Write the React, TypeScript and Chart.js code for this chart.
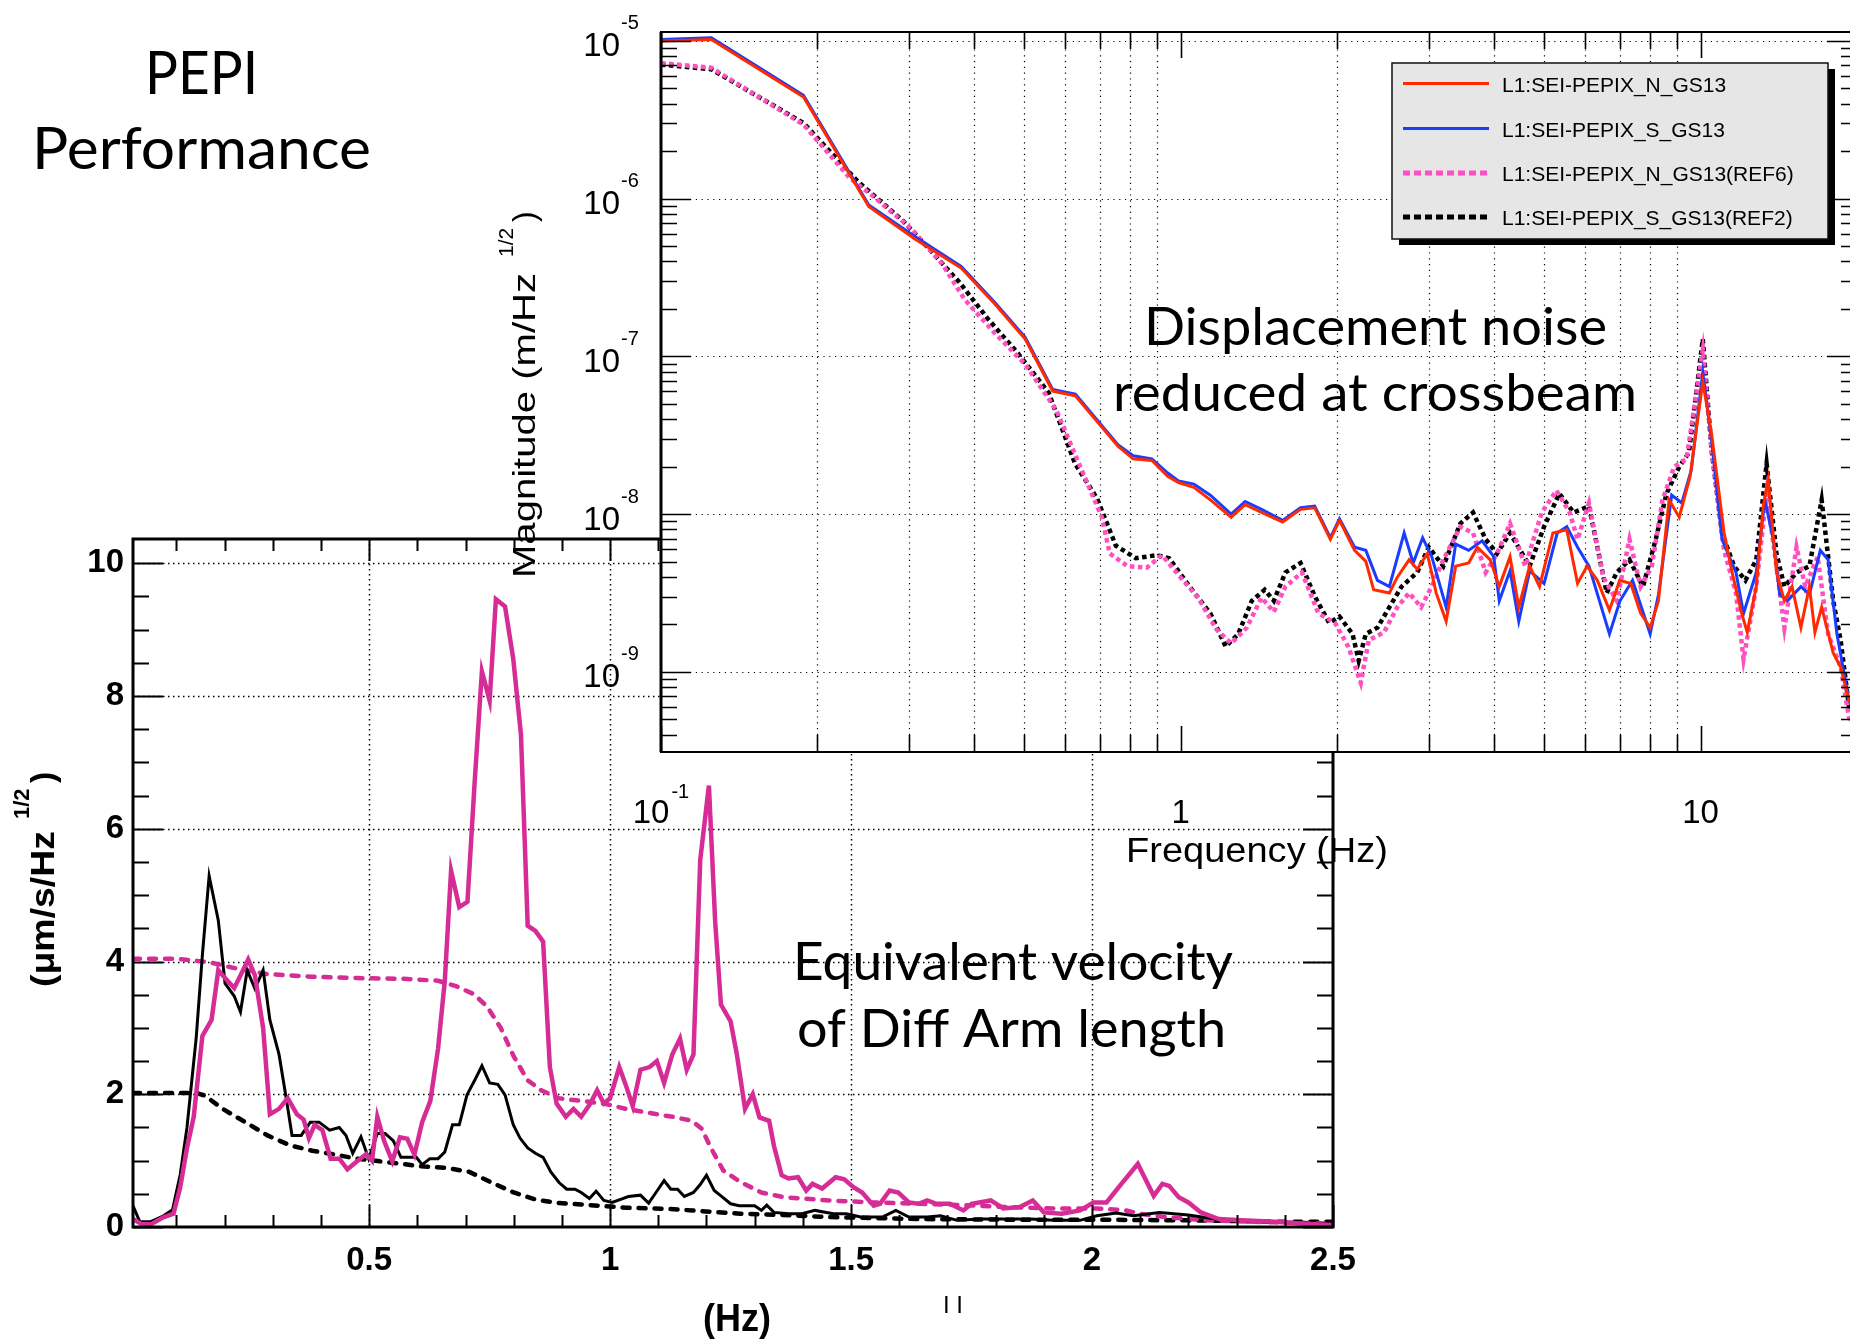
import React, { useEffect, useRef } from "react";
import { Chart, registerables } from "chart.js";

Chart.register(...registerables);

const PAGE_W = 1850;
const PAGE_H = 1342;
const TOP_W = 1860;

const SANS = '"Liberation Sans", Arial, Helvetica, sans-serif';
const HUMANIST = 'Lato, "Open Sans", "DejaVu Sans", sans-serif';

// ================= Lower chart: equivalent velocity of Diff Arm length =================
const velTickHz = [0.5, 1, 1.5, 2, 2.5];
const velTickVal = [0, 2, 4, 6, 8, 10];

// magenta solid
const velNFreq = [0.01,0.029,0.047,0.071,0.094,0.108,0.122,0.136,0.154,0.173,0.187,0.201,0.22,0.233,0.249,0.263,0.28,0.294,0.313,0.331,0.35,0.364,0.375,0.387,0.403,0.42,0.438,0.455,0.475,0.494,0.506,0.517,0.531,0.548,0.564,0.579,0.594,0.61,0.627,0.643,0.657,0.67,0.687,0.704,0.719,0.734,0.75,0.763,0.782,0.799,0.815,0.829,0.845,0.861,0.875,0.889,0.908,0.924,0.94,0.959,0.973,0.987,1.0,1.019,1.033,1.047,1.063,1.082,1.097,1.112,1.129,1.145,1.159,1.173,1.187,1.205,1.218,1.23,1.25,1.263,1.28,1.296,1.31,1.33,1.34,1.356,1.37,1.39,1.407,1.42,1.44,1.468,1.486,1.505,1.523,1.547,1.56,1.58,1.598,1.62,1.64,1.658,1.677,1.705,1.733,1.75,1.79,1.816,1.85,1.877,1.9,1.937,1.975,2.003,2.03,2.063,2.095,2.128,2.146,2.16,2.18,2.2,2.226,2.263,2.31,2.38,2.44,2.5];
const velNVal = [0.12,0.04,0.04,0.14,0.2,0.6,1.19,1.66,2.88,3.12,3.87,3.75,3.6,3.79,4.03,3.79,3.0,1.7,1.78,1.94,1.7,1.62,1.34,1.54,1.46,1.03,1.03,0.87,0.99,1.1,1.0,1.66,1.3,0.99,1.35,1.33,1.09,1.58,1.9,2.69,3.71,5.37,4.82,4.9,6.71,8.37,7.93,9.46,9.35,8.56,7.42,4.54,4.46,4.3,2.41,1.86,1.66,1.78,1.66,1.86,2.06,1.86,1.94,2.41,2.13,1.82,2.37,2.41,2.5,2.17,2.6,2.84,2.37,2.6,5.53,6.65,4.6,3.35,3.1,2.6,1.78,2.0,1.65,1.6,1.22,0.78,0.73,0.75,0.55,0.65,0.58,0.75,0.72,0.6,0.52,0.32,0.35,0.55,0.52,0.37,0.35,0.4,0.35,0.35,0.25,0.35,0.4,0.28,0.3,0.4,0.22,0.2,0.25,0.37,0.37,0.67,0.95,0.47,0.65,0.62,0.45,0.37,0.22,0.12,0.1,0.08,0.05,0.03];

// black solid
const velSFreq = [0.01,0.024,0.047,0.071,0.092,0.108,0.122,0.141,0.154,0.168,0.187,0.201,0.22,0.233,0.247,0.263,0.28,0.294,0.313,0.327,0.34,0.359,0.378,0.396,0.418,0.438,0.452,0.466,0.483,0.499,0.517,0.533,0.55,0.566,0.585,0.598,0.61,0.626,0.643,0.657,0.673,0.687,0.703,0.719,0.734,0.75,0.767,0.782,0.799,0.813,0.829,0.845,0.861,0.877,0.894,0.91,0.927,0.94,0.957,0.971,0.987,1.004,1.019,1.038,1.063,1.08,1.098,1.112,1.126,1.14,1.154,1.173,1.187,1.2,1.216,1.23,1.25,1.268,1.3,1.314,1.325,1.34,1.37,1.398,1.425,1.463,1.49,1.52,1.565,1.593,1.62,1.658,1.686,1.72,1.77,1.826,1.872,1.92,1.975,2.01,2.05,2.086,2.14,2.2,2.256,2.31,2.38,2.5];
const velSVal = [0.32,0.08,0.08,0.16,0.26,0.79,1.5,2.84,4.1,5.29,4.62,3.67,3.48,3.24,3.87,3.59,3.87,3.12,2.6,1.98,1.38,1.38,1.58,1.58,1.46,1.5,1.38,1.11,1.36,1.03,1.41,1.41,1.3,1.05,1.05,1.05,0.94,1.03,1.03,1.13,1.54,1.54,1.99,2.21,2.43,2.17,2.15,1.99,1.54,1.34,1.19,1.11,1.05,0.83,0.67,0.57,0.57,0.52,0.43,0.54,0.4,0.37,0.41,0.46,0.48,0.36,0.55,0.7,0.57,0.57,0.46,0.52,0.64,0.78,0.55,0.47,0.35,0.32,0.32,0.25,0.33,0.22,0.2,0.2,0.25,0.2,0.2,0.15,0.15,0.25,0.15,0.15,0.17,0.1,0.12,0.12,0.12,0.1,0.1,0.17,0.21,0.17,0.22,0.18,0.12,0.1,0.07,0.05];

// magenta dashed
const velNRefFreq = [0.01,0.103,0.168,0.215,0.289,0.382,0.475,0.568,0.643,0.68,0.717,0.745,0.773,0.8,0.829,0.857,0.894,0.94,0.987,1.033,1.08,1.13,1.17,1.19,1.21,1.235,1.27,1.314,1.36,1.453,1.547,1.64,1.733,1.826,1.92,2.01,2.07,2.1,2.15,2.24,2.38,2.5];
const velNRefVal = [4.04,4.04,3.99,3.91,3.81,3.77,3.75,3.74,3.71,3.63,3.51,3.32,3.0,2.57,2.21,2.06,1.94,1.9,1.86,1.78,1.72,1.66,1.6,1.48,1.18,0.85,0.68,0.52,0.45,0.4,0.37,0.35,0.33,0.3,0.28,0.28,0.25,0.2,0.15,0.1,0.07,0.05];

// black dashed
const velSRefFreq = [0.01,0.141,0.159,0.196,0.243,0.289,0.336,0.382,0.429,0.475,0.522,0.568,0.615,0.661,0.708,0.754,0.8,0.847,0.894,0.94,1.033,1.126,1.27,1.36,1.453,1.64,1.83,2.01,2.2,2.38,2.5];
const velSRefVal = [2.02,2.02,1.98,1.78,1.58,1.38,1.23,1.15,1.09,1.03,0.99,0.95,0.91,0.89,0.83,0.67,0.52,0.41,0.36,0.34,0.29,0.27,0.2,0.18,0.15,0.12,0.11,0.11,0.1,0.08,0.08];

// ================= Upper chart: displacement noise magnitude (log-log) =================
const magDecades = [-5, -6, -7, -8, -9];
const freqTickLabels = [
  { value: 0.1, base: "10", exp: "-1" },
  { value: 1, base: "1", exp: "" },
  { value: 10, base: "10", exp: "" },
];

const seriesLabels = [
  "L1:SEI-PEPIX_N_GS13",
  "L1:SEI-PEPIX_S_GS13",
  "L1:SEI-PEPIX_N_GS13(REF6)",
  "L1:SEI-PEPIX_S_GS13(REF2)",
];

// log10 of magnitude (m/Hz^1/2)
const redFreq = [0.1,0.125,0.188,0.251,0.308,0.378,0.438,0.502,0.567,0.627,0.757,0.81,0.88,0.944,0.99,1.06,1.14,1.25,1.33,1.43,1.57,1.7,1.81,1.94,2.02,2.16,2.27,2.35,2.52,2.61,2.75,2.85,2.98,3.1,3.24,3.38,3.58,3.72,3.94,4.1,4.3,4.47,4.69,4.9,5.2,5.53,5.8,6.05,6.33,6.68,6.99,7.34,7.67,8.0,8.3,8.7,9.1,9.55,10.1,10.5,11.1,11.5,12.0,12.3,12.8,13.2,13.5,14.0,14.5,15.0,15.6,16.2,16.6,17.1,18.0,18.6,19.3,20];
const redLogMag = [-5.0,-4.99,-5.355,-6.05,-6.256,-6.44,-6.665,-6.89,-7.22,-7.25,-7.57,-7.65,-7.66,-7.76,-7.80,-7.83,-7.91,-8.02,-7.94,-7.99,-8.05,-7.97,-7.96,-8.16,-8.04,-8.23,-8.30,-8.48,-8.50,-8.40,-8.29,-8.35,-8.25,-8.50,-8.68,-8.33,-8.31,-8.21,-8.29,-8.46,-8.27,-8.59,-8.33,-8.46,-8.12,-8.10,-8.44,-8.33,-8.42,-8.61,-8.42,-8.44,-8.63,-8.72,-8.55,-7.91,-8.02,-7.76,-7.16,-7.49,-8.12,-8.37,-8.63,-8.75,-8.46,-7.95,-7.78,-8.37,-8.55,-8.46,-8.72,-8.46,-8.75,-8.59,-8.88,-8.97,-9.18,-9.25];

const blueFreq = [0.1,0.125,0.188,0.251,0.308,0.378,0.438,0.502,0.567,0.627,0.757,0.81,0.88,0.944,0.99,1.06,1.14,1.25,1.33,1.43,1.57,1.7,1.81,1.94,2.02,2.16,2.27,2.39,2.52,2.69,2.8,2.92,3.04,3.24,3.38,3.58,3.8,4.0,4.1,4.3,4.47,4.69,5.0,5.3,5.53,5.8,6.1,6.68,7.0,7.4,8.0,8.3,8.8,9.2,9.6,10.1,10.5,11.0,11.7,12.1,12.8,13.3,13.8,14.2,14.7,15.6,16.2,17.0,17.6,18.3,19.3,20];
const blueLogMag = [-4.99,-4.98,-5.345,-6.04,-6.24,-6.43,-6.655,-6.88,-7.21,-7.24,-7.56,-7.63,-7.65,-7.74,-7.79,-7.81,-7.88,-8.0,-7.92,-7.97,-8.04,-7.96,-7.95,-8.15,-8.03,-8.21,-8.23,-8.42,-8.46,-8.12,-8.31,-8.15,-8.27,-8.59,-8.19,-8.23,-8.17,-8.27,-8.55,-8.36,-8.68,-8.36,-8.44,-8.12,-8.08,-8.21,-8.33,-8.76,-8.55,-8.42,-8.76,-8.51,-7.88,-7.93,-7.72,-7.10,-7.53,-8.16,-8.37,-8.63,-8.37,-7.91,-8.16,-8.51,-8.55,-8.46,-8.51,-8.23,-8.29,-8.76,-9.18,-9.3];

const ref6Freq = [0.1,0.125,0.188,0.231,0.255,0.303,0.347,0.384,0.438,0.502,0.576,0.637,0.705,0.73,0.79,0.86,0.92,1.01,1.08,1.17,1.25,1.34,1.43,1.51,1.59,1.71,1.84,1.98,2.1,2.22,2.3,2.46,2.61,2.75,2.9,3.04,3.2,3.45,3.65,3.86,4.06,4.3,4.6,4.95,5.28,5.6,5.8,6.1,6.5,6.9,7.3,7.67,8.06,8.45,8.9,9.4,10.1,10.5,11.1,11.7,12.1,12.8,13.4,14.0,14.5,15.3,15.9,16.8,17.6,18.6,19.3,20];
const ref6LogMag = [-5.14,-5.17,-5.53,-5.87,-5.98,-6.19,-6.41,-6.64,-6.85,-7.05,-7.34,-7.68,-8.02,-8.25,-8.33,-8.34,-8.26,-8.42,-8.53,-8.73,-8.82,-8.72,-8.53,-8.62,-8.46,-8.37,-8.63,-8.69,-8.84,-9.07,-8.80,-8.75,-8.59,-8.50,-8.59,-8.46,-8.29,-8.08,-8.12,-8.37,-8.25,-8.06,-8.33,-7.99,-7.85,-7.99,-8.16,-7.93,-8.40,-8.55,-8.16,-8.46,-8.33,-7.91,-7.70,-7.65,-6.96,-7.59,-8.23,-8.50,-8.92,-8.46,-7.87,-8.33,-8.72,-8.21,-8.46,-8.27,-8.76,-8.97,-9.29,-9.35];

const ref2Freq = [0.1,0.125,0.188,0.239,0.292,0.324,0.375,0.425,0.486,0.557,0.626,0.69,0.75,0.82,0.9,0.95,1.04,1.14,1.22,1.29,1.37,1.45,1.51,1.59,1.7,1.81,1.93,2.02,2.14,2.2,2.27,2.39,2.52,2.66,2.85,3.0,3.2,3.45,3.65,3.86,4.06,4.3,4.69,5.0,5.35,5.7,6.1,6.6,6.9,7.3,7.75,8.2,8.6,9.1,9.5,10.1,10.5,11.0,11.6,12.2,12.8,13.4,14.0,14.5,15.3,16.2,17.1,18.0,18.6,19.3,20];
const ref2LogMag = [-5.15,-5.18,-5.52,-5.89,-6.14,-6.30,-6.53,-6.76,-6.98,-7.23,-7.68,-7.9,-8.2,-8.28,-8.26,-8.28,-8.46,-8.63,-8.84,-8.76,-8.55,-8.48,-8.55,-8.37,-8.31,-8.52,-8.69,-8.65,-8.76,-8.93,-8.76,-8.72,-8.59,-8.46,-8.37,-8.21,-8.33,-8.06,-7.99,-8.16,-8.25,-8.12,-8.33,-8.08,-7.87,-7.99,-7.95,-8.5,-8.37,-8.29,-8.46,-8.16,-7.87,-7.70,-7.61,-6.89,-7.59,-8.12,-8.33,-8.42,-8.29,-7.68,-8.25,-8.46,-8.37,-8.33,-7.91,-8.55,-8.80,-9.22,-9.3];

// ---------------- helpers ----------------
function pts(xs: number[], ys: number[]) {
  const n = Math.min(xs.length, ys.length);
  const out: { x: number; y: number }[] = [];
  for (let i = 0; i < n; i++) out.push({ x: xs[i], y: ys[i] });
  return out;
}
function logPts(xs: number[], logs: number[]) {
  const n = Math.min(xs.length, logs.length);
  const out: { x: number; y: number }[] = [];
  for (let i = 0; i < n; i++) out.push({ x: xs[i], y: Math.pow(10, logs[i]) });
  return out;
}

function fitText(
  ctx: CanvasRenderingContext2D,
  text: string,
  font: string,
  x: number,
  baseline: number,
  width: number,
  align: "left" | "center" = "left"
) {
  ctx.save();
  ctx.font = font;
  ctx.textAlign = "left";
  ctx.textBaseline = "alphabetic";
  const w = ctx.measureText(text).width || 1;
  ctx.translate(x, baseline);
  ctx.scale(width / w, 1);
  ctx.fillText(text, align === "center" ? -w / 2 : 0, 0);
  ctx.restore();
}

// ---------------- lower chart decorations ----------------
const lowerDecor = {
  id: "lowerDecor",
  beforeDatasetsDraw(chart: any) {
    const { ctx, chartArea: a } = chart;
    const xs = chart.scales.x;
    const ys = chart.scales.y;
    ctx.save();
    ctx.strokeStyle = "#000";
    ctx.lineWidth = 1.5;
    ctx.setLineDash([1.5, 3.5]);
    ctx.beginPath();
    velTickHz.forEach((v) => {
      const px = Math.round(xs.getPixelForValue(v)) + 0.5;
      if (px > a.left + 3 && px < a.right - 3) {
        ctx.moveTo(px, a.top);
        ctx.lineTo(px, a.bottom);
      }
    });
    velTickVal.forEach((v) => {
      const py = Math.round(ys.getPixelForValue(v)) + 0.5;
      if (py > a.top + 3 && py < a.bottom - 3) {
        ctx.moveTo(a.left, py);
        ctx.lineTo(a.right, py);
      }
    });
    ctx.stroke();
    ctx.restore();
  },
  afterDatasetsDraw(chart: any) {
    const { ctx, chartArea: a } = chart;
    const xs = chart.scales.x;
    const ys = chart.scales.y;
    ctx.save();
    ctx.strokeStyle = "#000";
    ctx.setLineDash([]);
    ctx.lineWidth = 2;
    ctx.beginPath();
    for (let i = 1; i <= 25; i++) {
      const px = Math.round(xs.getPixelForValue(i / 10)) + 0.5;
      const len = i % 5 === 0 ? 22 : 12;
      ctx.moveTo(px, a.bottom);
      ctx.lineTo(px, a.bottom - len);
      ctx.moveTo(px, a.top);
      ctx.lineTo(px, a.top + len);
    }
    for (let i = 0; i <= 20; i++) {
      const py = Math.round(ys.getPixelForValue(i / 2)) + 0.5;
      const len = i % 4 === 0 ? 30 : 16;
      ctx.moveTo(a.left, py);
      ctx.lineTo(a.left + len, py);
      ctx.moveTo(a.right, py);
      ctx.lineTo(a.right - len, py);
    }
    ctx.stroke();
    ctx.lineWidth = 3;
    ctx.strokeRect(a.left, a.top, a.right - a.left, a.bottom - a.top);

    ctx.fillStyle = "#000";
    // x title
    fitText(ctx, "(Hz)", `bold 38px ${SANS}`, 737, 1331, 68, "center");
    // stray mark under the axis
    ctx.font = `24px ${SANS}`;
    ctx.textAlign = "center";
    ctx.textBaseline = "alphabetic";
    ctx.fillText("I I", 953, 1313);

    // y title (rotated)
    ctx.save();
    ctx.translate(54, 987);
    ctx.rotate(-Math.PI / 2);
    ctx.textAlign = "left";
    ctx.textBaseline = "alphabetic";
    ctx.font = `bold 34px ${SANS}`;
    const w1 = ctx.measureText("(\u03bcm/s/Hz").width;
    ctx.save();
    ctx.scale(156 / w1, 1);
    ctx.fillText("(\u03bcm/s/Hz", 0, 0);
    ctx.restore();
    ctx.font = `bold 22px ${SANS}`;
    ctx.fillText("1/2", 168, -25);
    ctx.font = `bold 34px ${SANS}`;
    ctx.fillText(")", 204, 0);
    ctx.restore();
    ctx.restore();
  },
};

// ---------------- upper chart decorations ----------------
const upperDecor = {
  id: "upperDecor",
  beforeDraw(chart: any) {
    const { ctx, chartArea: a } = chart;
    ctx.save();
    ctx.fillStyle = "#fff";
    ctx.fillRect(a.left, a.top, a.right - a.left, a.bottom - a.top);
    ctx.restore();
  },
  beforeDatasetsDraw(chart: any) {
    const { ctx, chartArea: a } = chart;
    const xs = chart.scales.x;
    const ys = chart.scales.y;
    ctx.save();
    ctx.strokeStyle = "#000";
    ctx.lineWidth = 1.2;
    ctx.setLineDash([1.2, 4.6]);
    ctx.beginPath();
    for (const d of [0.1, 1, 10]) {
      for (let k = 2; k <= 9; k++) {
        const v = k * d;
        if (v >= xs.max) continue;
        const px = Math.round(xs.getPixelForValue(v)) + 0.5;
        ctx.moveTo(px, a.top);
        ctx.lineTo(px, a.bottom);
      }
    }
    magDecades.forEach((e) => {
      const py = Math.round(ys.getPixelForValue(Math.pow(10, e))) + 0.5;
      ctx.moveTo(a.left, py);
      ctx.lineTo(a.right, py);
    });
    ctx.stroke();
    ctx.restore();
  },
  afterDatasetsDraw(chart: any) {
    const { ctx, chartArea: a } = chart;
    const xs = chart.scales.x;
    const ys = chart.scales.y;
    ctx.save();
    ctx.strokeStyle = "#000";
    ctx.setLineDash([]);
    ctx.lineWidth = 1.6;
    ctx.beginPath();
    // x ticks
    for (const d of [0.1, 1, 10]) {
      for (let k = 1; k <= 9; k++) {
        const v = k * d;
        if (v > xs.max) continue;
        const px = Math.round(xs.getPixelForValue(v)) + 0.5;
        const len = k === 1 ? 26 : 17;
        ctx.moveTo(px, a.bottom);
        ctx.lineTo(px, a.bottom - len);
        ctx.moveTo(px, a.top);
        ctx.lineTo(px, a.top + len);
      }
    }
    // y ticks
    for (let e = -10; e <= -5; e++) {
      for (let k = 1; k <= 9; k++) {
        const v = k * Math.pow(10, e);
        if (v < ys.min || v > ys.max) continue;
        const py = Math.round(ys.getPixelForValue(v)) + 0.5;
        const len = k === 1 ? 30 : 16;
        ctx.moveTo(a.left, py);
        ctx.lineTo(a.left + len, py);
        ctx.moveTo(a.right, py);
        ctx.lineTo(a.right - len, py);
      }
    }
    ctx.stroke();
    // frame
    ctx.lineWidth = 2;
    ctx.strokeRect(a.left, a.top, a.right - a.left, a.bottom - a.top);
    ctx.lineWidth = 3;
    ctx.beginPath();
    ctx.moveTo(a.left, a.top);
    ctx.lineTo(a.left, a.bottom);
    ctx.stroke();

    ctx.fillStyle = "#000";
    ctx.textBaseline = "alphabetic";
    // y tick labels
    magDecades.forEach((e) => {
      const py = ys.getPixelForValue(Math.pow(10, e));
      ctx.font = `33px ${SANS}`;
      ctx.textAlign = "right";
      ctx.fillText("10", 620, py + 15.5);
      ctx.font = `20px ${SANS}`;
      ctx.textAlign = "left";
      ctx.fillText(String(e), 621, py - 11.5);
    });
    // x tick labels
    freqTickLabels.forEach((t) => {
      const px = xs.getPixelForValue(t.value);
      ctx.font = `33px ${SANS}`;
      const wb = ctx.measureText(t.base).width;
      ctx.font = `20px ${SANS}`;
      const we = t.exp ? ctx.measureText(t.exp).width + 2 : 0;
      const x0 = px - (wb + we) / 2;
      ctx.textAlign = "left";
      ctx.font = `33px ${SANS}`;
      ctx.fillText(t.base, x0, 823);
      if (t.exp) {
        ctx.font = `20px ${SANS}`;
        ctx.fillText(t.exp, x0 + wb + 2, 798);
      }
    });
    // x title
    fitText(ctx, "Frequency (Hz)", `35px ${SANS}`, 1126, 862, 262);

    // y title (rotated)
    ctx.save();
    ctx.translate(535, 578);
    ctx.rotate(-Math.PI / 2);
    ctx.font = `32px ${SANS}`;
    ctx.textAlign = "left";
    const wm = ctx.measureText("Magnitude (m/Hz").width;
    ctx.save();
    ctx.scale(305 / wm, 1);
    ctx.fillText("Magnitude (m/Hz", 0, 0);
    ctx.restore();
    ctx.font = `21px ${SANS}`;
    ctx.fillText("1/2", 321, -22);
    ctx.font = `32px ${SANS}`;
    ctx.fillText(")", 356, 0);
    ctx.restore();

    // legend
    const lx = 1392, ly = 63, lw = 436, lh = 176;
    ctx.fillStyle = "#000";
    ctx.fillRect(lx + 7, ly + 6, lw, lh);
    ctx.fillStyle = "#e6e6e6";
    ctx.fillRect(lx, ly, lw, lh);
    ctx.strokeStyle = "#111";
    ctx.lineWidth = 1.5;
    ctx.strokeRect(lx, ly, lw, lh);
    const rows = [83.5, 128.5, 173, 217];
    chart.data.datasets.forEach((ds: any, i: number) => {
      const yy = rows[i];
      ctx.save();
      ctx.strokeStyle = ds.borderColor;
      const dotted = ds.borderDash && ds.borderDash.length;
      ctx.lineWidth = dotted ? 5 : 3;
      ctx.setLineDash(dotted ? [7, 4] : []);
      ctx.beginPath();
      ctx.moveTo(1403, yy);
      ctx.lineTo(1489, yy);
      ctx.stroke();
      ctx.restore();
      ctx.fillStyle = "#000";
      ctx.font = `21px ${SANS}`;
      ctx.textAlign = "left";
      ctx.fillText(ds.label, 1502, yy + 8);
    });
    ctx.restore();
  },
  afterDraw(chart: any) {
    const ctx: CanvasRenderingContext2D = chart.ctx;
    ctx.save();
    ctx.fillStyle = "#000";
    fitText(ctx, "PEPI", `60px ${HUMANIST}`, 201.5, 94, 113, "center");
    fitText(ctx, "Performance", `59px ${HUMANIST}`, 32, 169, 339);
    fitText(ctx, "Displacement noise", `52px ${HUMANIST}`, 1144, 345, 463);
    fitText(ctx, "reduced at crossbeam", `52px ${HUMANIST}`, 1113, 411, 524);
    fitText(ctx, "Equivalent velocity", `53px ${HUMANIST}`, 793, 980, 440);
    fitText(ctx, "of Diff Arm length", `53px ${HUMANIST}`, 797, 1047, 429);
    ctx.restore();
  },
};

export default function App() {
  const lowerRef = useRef<HTMLCanvasElement>(null);
  const upperRef = useRef<HTMLCanvasElement>(null);

  useEffect(() => {
    const magenta = "#d62c96";
    const lower = new Chart(lowerRef.current as HTMLCanvasElement, {
      type: "line",
      data: {
        datasets: [
          { label: "N", data: pts(velNFreq, velNVal), borderColor: magenta, borderWidth: 4.5, pointRadius: 0, tension: 0 },
          { label: "S", data: pts(velSFreq, velSVal), borderColor: "#000", borderWidth: 3, pointRadius: 0, tension: 0 },
          { label: "N ref", data: pts(velNRefFreq, velNRefVal), borderColor: magenta, borderWidth: 4.5, borderDash: [7, 9], borderCapStyle: "round", pointRadius: 0, tension: 0 },
          { label: "S ref", data: pts(velSRefFreq, velSRefVal), borderColor: "#000", borderWidth: 4.5, borderDash: [7, 9], borderCapStyle: "round", pointRadius: 0, tension: 0 },
        ],
      },
      options: {
        animation: false,
        responsive: false,
        maintainAspectRatio: false,
        layout: { padding: { left: 0, top: 539, right: PAGE_W - 1333, bottom: 0 } },
        plugins: { legend: { display: false }, tooltip: { enabled: false }, title: { display: false } },
        scales: {
          x: {
            type: "linear",
            min: 0.01,
            max: 2.5,
            grid: { display: false, drawTicks: false },
            border: { display: false },
            ticks: {
              color: "#000",
              font: { family: SANS, size: 33, weight: "bold" },
              padding: 14,
              maxRotation: 0,
              autoSkip: false,
              callback: (v: any) => String(v),
            },
            afterBuildTicks: (axis: any) => {
              axis.ticks = velTickHz.map((v) => ({ value: v }));
            },
            afterFit: (axis: any) => {
              axis.height = PAGE_H - 1227;
            },
          },
          y: {
            type: "linear",
            min: 0,
            max: 10.366,
            grid: { display: false, drawTicks: false },
            border: { display: false },
            ticks: {
              color: "#000",
              font: { family: SANS, size: 33, weight: "bold" },
              padding: 9,
              autoSkip: false,
              callback: (v: any) => String(v),
            },
            afterBuildTicks: (axis: any) => {
              axis.ticks = velTickVal.map((v) => ({ value: v }));
            },
            afterFit: (axis: any) => {
              axis.width = 133;
            },
          },
        },
      } as any,
      plugins: [lowerDecor],
    });

    const upper = new Chart(upperRef.current as HTMLCanvasElement, {
      type: "line",
      data: {
        datasets: [
          { label: seriesLabels[0], data: logPts(redFreq, redLogMag), borderColor: "#ff2a00", borderWidth: 3, pointRadius: 0, tension: 0 },
          { label: seriesLabels[1], data: logPts(blueFreq, blueLogMag), borderColor: "#1a3cff", borderWidth: 3, pointRadius: 0, tension: 0 },
          { label: seriesLabels[2], data: logPts(ref6Freq, ref6LogMag), borderColor: "#ff4fc0", borderWidth: 4.5, borderDash: [4.5, 3.5], pointRadius: 0, tension: 0 },
          { label: seriesLabels[3], data: logPts(ref2Freq, ref2LogMag), borderColor: "#000", borderWidth: 4.5, borderDash: [4.5, 3.5], pointRadius: 0, tension: 0 },
        ],
      },
      options: {
        animation: false,
        responsive: false,
        maintainAspectRatio: false,
        layout: { padding: { left: 0, top: 32, right: TOP_W - 1857, bottom: 0 } },
        plugins: { legend: { display: false }, tooltip: { enabled: false }, title: { display: false } },
        scales: {
          x: {
            type: "logarithmic",
            min: 0.1,
            max: 20,
            grid: { display: false, drawTicks: false },
            border: { display: false },
            ticks: { display: false },
            afterFit: (axis: any) => {
              axis.height = PAGE_H - 752;
            },
          },
          y: {
            type: "logarithmic",
            min: 3.1e-10,
            max: 1.14e-5,
            grid: { display: false, drawTicks: false },
            border: { display: false },
            ticks: { display: false },
            afterFit: (axis: any) => {
              axis.width = 661;
            },
          },
        },
      } as any,
      plugins: [upperDecor],
    });

    return () => {
      lower.destroy();
      upper.destroy();
    };
  }, []);

  return (
    <div
      style={{
        position: "absolute",
        left: 0,
        top: 0,
        width: PAGE_W,
        height: PAGE_H,
        overflow: "hidden",
        background: "#fff",
      }}
    >
      <canvas
        ref={lowerRef}
        width={PAGE_W}
        height={PAGE_H}
        style={{ position: "absolute", left: 0, top: 0, width: PAGE_W, height: PAGE_H }}
      />
      <canvas
        ref={upperRef}
        width={TOP_W}
        height={PAGE_H}
        style={{ position: "absolute", left: 0, top: 0, width: TOP_W, height: PAGE_H }}
      />
    </div>
  );
}
